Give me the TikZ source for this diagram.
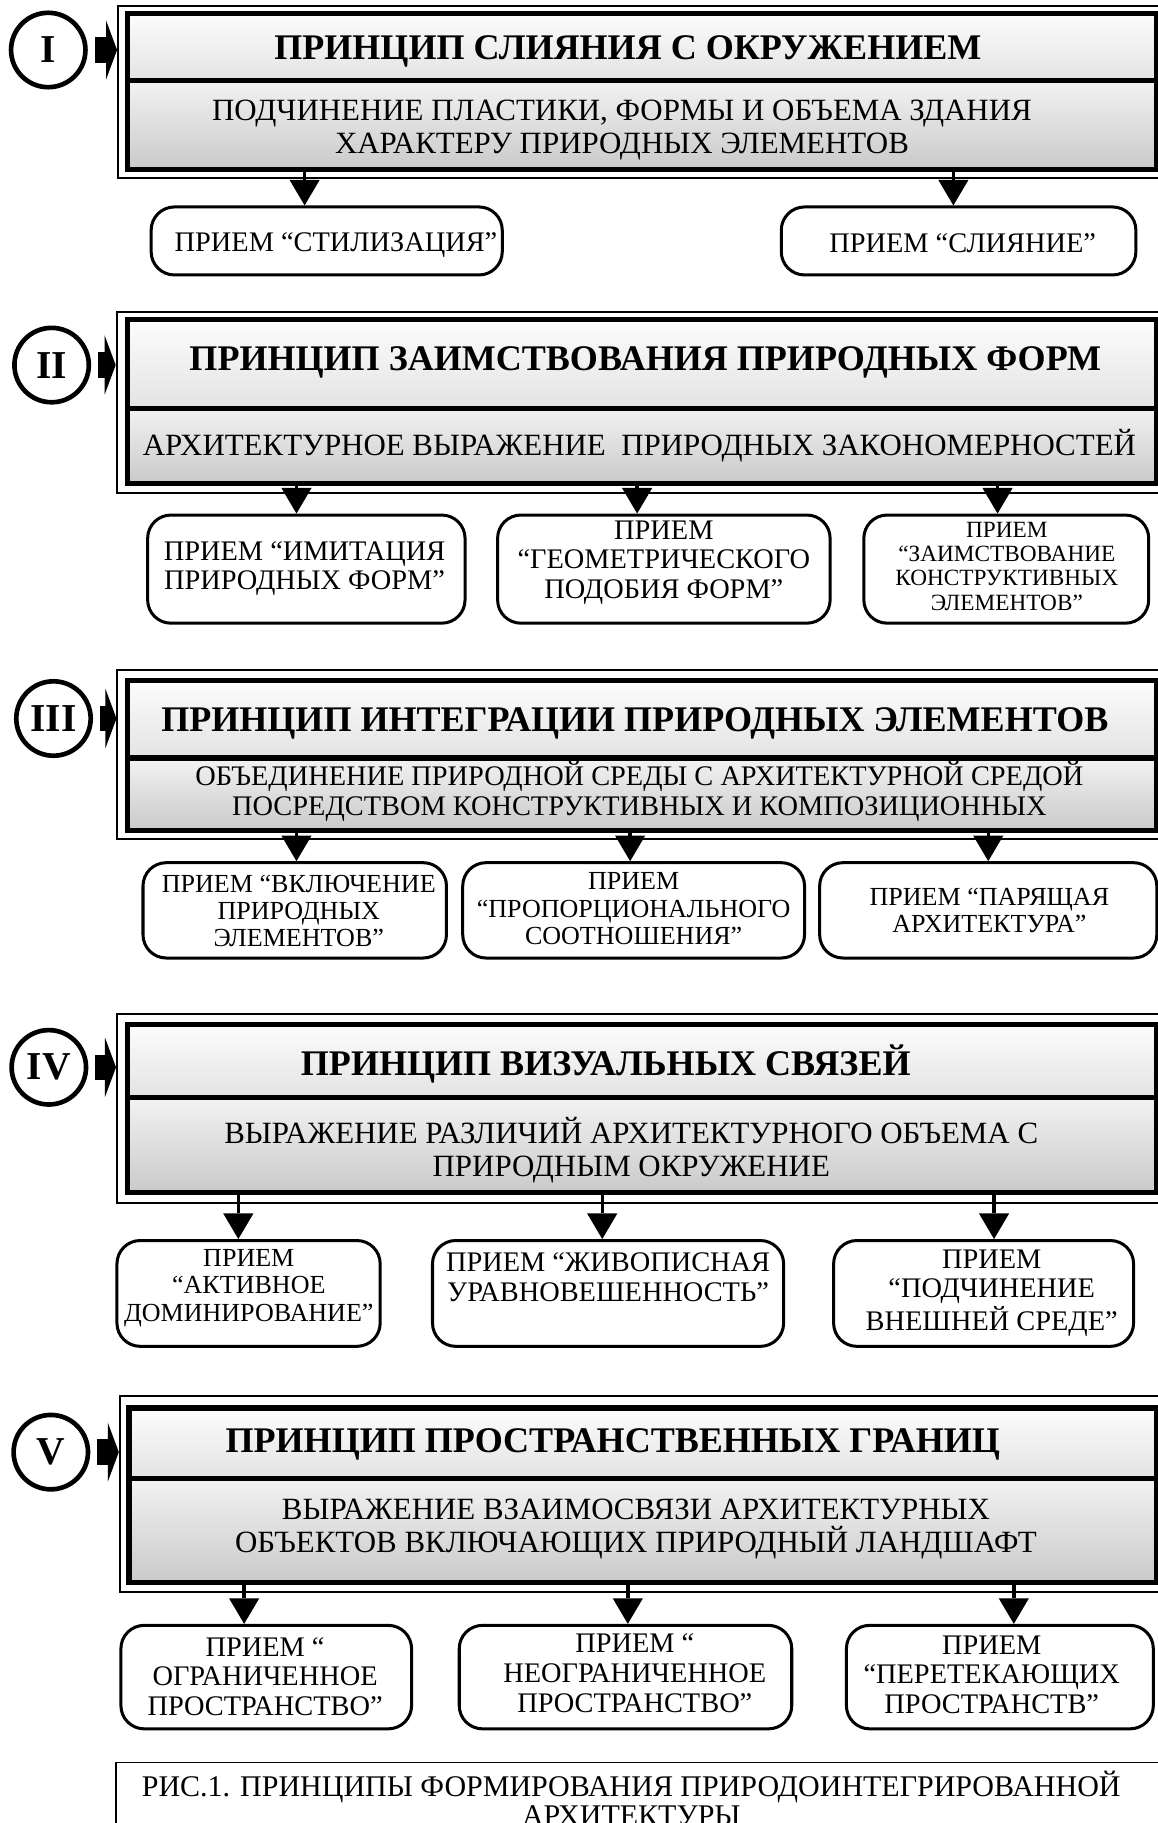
\documentclass[tikz,border=0pt]{standalone}
\usepackage{fontspec}
\setmainfont{Liberation Serif}
\usetikzlibrary{arrows.meta,fit}
\begin{document}
\begin{tikzpicture}[x=0.5pt,y=-0.5pt,
  frame/.style={draw, line width=0.8pt, inner sep=0pt, fill=white},
  tband/.style={draw, line width=2.2pt, inner sep=0pt, top color=gray!2, bottom color=gray!22},
  sband/.style={draw, line width=2.2pt, inner sep=0pt, top color=gray!10, bottom color=gray!42},
  rbox/.style={draw, line width=1.3pt, rounded corners=10pt, inner sep=0pt, fill=white},
  circ/.style={circle, draw, line width=2pt, minimum size=32pt, inner sep=0pt, font=\fontsize{17}{17}\selectfont\bfseries},
  ttl/.style={font=\fontsize{15.5}{17}\selectfont\bfseries, inner sep=0pt},
  sub/.style={font=\fontsize{13.3}{14.2}\selectfont, align=center, inner sep=0pt},
  btx/.style={font=\fontsize{12.2}{12.8}\selectfont, align=center, inner sep=0pt},
  btxs/.style={font=\fontsize{10}{10.5}\selectfont, align=center, inner sep=0pt},
  btxm/.style={font=\fontsize{11.2}{11.8}\selectfont, align=center, inner sep=0pt},
  dar/.style={line width=1.5pt, -{Triangle[length=11pt,width=13pt,line width=0pt]}},
  stem/.style={line width=11pt, shorten <=3pt, shorten >=4.6pt},
  head/.style={fill=black}
]
\useasboundingbox (0,0) rectangle (996,1568);
\clip (0,0) rectangle (996,1568);

% side arrow head at point #1
\newcommand{\sidehead}[1]{\fill[head] ([shift={(-9.5,-25.5)}]#1) -- (#1) -- ([shift={(-9.5,25.5)}]#1) -- cycle;}

% ---------------- Section I
\node[frame, fit={(101.5,5.5) (1003,153)}] (f1) {};
\node[tband, fit={(110,11.5) (995,69)}] (t1) {};
\node[sband, fit={(110,69) (995,146)}] (s1) {};
\node[circ] (c1) at (41.5,43) {I};
\coordinate (p1) at (f1.west |- c1.east);
\draw[stem] (c1.east) -- (p1);
\sidehead{p1}
\node[ttl] (tt1) at (540,44) {ПРИНЦИП СЛИЯНИЯ С ОКРУЖЕНИЕМ};
\node[sub] (st1) at (535,111.75) {ПОДЧИНЕНИЕ ПЛАСТИКИ, ФОРМЫ И ОБЪЕМА ЗДАНИЯ\\ХАРАКТЕРУ ПРИРОДНЫХ ЭЛЕМЕНТОВ};
\node[rbox, fit={(130,178) (432,236.5)}] (b11) {};
\node[rbox, fit={(672,178) (977,236.5)}] (b12) {};
\node[btx] (x11) at (289,211) {ПРИЕМ “СТИЛИЗАЦИЯ”};
\node[btx] (x12) at (828,209) {ПРИЕМ “СЛИЯНИЕ”};
\coordinate (a11) at (262,0);
\coordinate (a12) at (820,0);
\draw[dar] (s1.south -| a11) -- (b11.north -| a11);
\draw[dar] (s1.south -| a12) -- (b12.north -| a12);

% ---------------- Section II
\node[frame, fit={(100.3,268) (1003,424)}] (f2) {};
\node[tband, fit={(110,275) (995,351)}] (t2) {};
\node[sband, fit={(110,351) (995,415.6)}] (s2) {};
\node[circ] (c2) at (44.4,314) {II};
\coordinate (p2) at (f2.west |- c2.east);
\draw[stem] (c2.east) -- (p2);
\sidehead{p2}
\node[ttl] (tt2) at (555,312) {ПРИНЦИП ЗАИМСТВОВАНИЯ ПРИРОДНЫХ ФОРМ};
\node[sub] (st2) at (550,383) {АРХИТЕКТУРНОЕ ВЫРАЖЕНИЕ\ \ ПРИРОДНЫХ ЗАКОНОМЕРНОСТЕЙ};
\node[rbox, fit={(127,443) (400,536)}] (b21) {};
\node[rbox, fit={(428,443) (714,536)}] (b22) {};
\node[rbox, fit={(743,443) (988,536)}] (b23) {};
\node[btx] (x21) at (262,489) {ПРИЕМ “ИМИТАЦИЯ\\ПРИРОДНЫХ ФОРМ”};
\node[btx] (x22) at (571,484) {ПРИЕМ\\“ГЕОМЕТРИЧЕСКОГО\\ПОДОБИЯ ФОРМ”};
\node[btxs] (x23) at (866,487) {ПРИЕМ\\“ЗАИМСТВОВАНИЕ\\КОНСТРУКТИВНЫХ\\ЭЛЕМЕНТОВ”};
\coordinate (a21) at (255,0);
\coordinate (a22) at (548,0);
\coordinate (a23) at (858,0);
\draw[dar] (s2.south -| a21) -- (b21.north -| a21);
\draw[dar] (s2.south -| a22) -- (b22.north -| a22);
\draw[dar] (s2.south -| a23) -- (b23.north -| a23);

% ---------------- Section III
\node[frame, fit={(101,576) (1003,722)}] (f3) {};
\node[tband, fit={(110,585) (995,652)}] (t3) {};
\node[sband, fit={(110,652) (995,714)}] (s3) {};
\node[circ] (c3) at (46,618) {III};
\coordinate (p3) at (f3.west |- c3.east);
\draw[stem] (c3.east) -- (p3);
\sidehead{p3}
\node[ttl] (tt3) at (546,622) {ПРИНЦИП ИНТЕГРАЦИИ ПРИРОДНЫХ ЭЛЕМЕНТОВ};
\node[sub, font=\fontsize{12.2}{13}\selectfont] (st3) at (550,681) {ОБЪЕДИНЕНИЕ ПРИРОДНОЙ СРЕДЫ С АРХИТЕКТУРНОЙ СРЕДОЙ\\ПОСРЕДСТВОМ КОНСТРУКТИВНЫХ И КОМПОЗИЦИОННЫХ};
\node[rbox, fit={(123,742) (384,824)}] (b31) {};
\node[rbox, fit={(398,742) (692,824)}] (b32) {};
\node[rbox, fit={(705,742) (995,824)}] (b33) {};
\node[btxm] (x31) at (257,783.5) {ПРИЕМ “ВКЛЮЧЕНИЕ\\ПРИРОДНЫХ\\ЭЛЕМЕНТОВ”};
\node[btxm] (x32) at (545,781.5) {ПРИЕМ\\“ПРОПОРЦИОНАЛЬНОГО\\СООТНОШЕНИЯ”};
\node[btxm] (x33) at (851,783) {ПРИЕМ “ПАРЯЩАЯ\\АРХИТЕКТУРА”};
\coordinate (a31) at (255,0);
\coordinate (a32) at (542,0);
\coordinate (a33) at (850,0);
\draw[dar] (s3.south -| a31) -- (b31.north -| a31);
\draw[dar] (s3.south -| a32) -- (b32.north -| a32);
\draw[dar] (s3.south -| a33) -- (b33.north -| a33);

% ---------------- Section IV
\node[frame, fit={(100.6,872) (1003,1034.6)}] (f4) {};
\node[tband, fit={(110,881.5) (995,944)}] (t4) {};
\node[sband, fit={(110,944) (995,1026)}] (s4) {};
\node[circ] (c4) at (42,918) {IV};
\coordinate (p4) at (f4.west |- c4.east);
\draw[stem] (c4.east) -- (p4);
\sidehead{p4}
\node[ttl] (tt4) at (521,915) {ПРИНЦИП ВИЗУАЛЬНЫХ СВЯЗЕЙ};
\node[sub] (st4) at (543,989) {ВЫРАЖЕНИЕ РАЗЛИЧИЙ АРХИТЕКТУРНОГО ОБЪЕМА С\\ПРИРОДНЫМ ОКРУЖЕНИЕ};
\node[rbox, fit={(100.6,1067) (327,1158)}] (b41) {};
\node[rbox, fit={(372,1067) (674,1158)}] (b42) {};
\node[rbox, fit={(717,1067) (975,1158)}] (b43) {};
\node[btxm] (x41) at (214,1108) {ПРИЕМ\\“АКТИВНОЕ\\ДОМИНИРОВАНИЕ”};
\node[btx] (x42) at (523,1098.5) {ПРИЕМ “ЖИВОПИСНАЯ\\УРАВНОВЕШЕННОСТЬ”};
\node[btx] (x43) at (853,1112) {ПРИЕМ\\“ПОДЧИНЕНИЕ\\ВНЕШНЕЙ СРЕДЕ”};
\coordinate (a41) at (205,0);
\coordinate (a42) at (518,0);
\coordinate (a43) at (855,0);
\draw[dar] (s4.south -| a41) -- (b41.north -| a41);
\draw[dar] (s4.south -| a42) -- (b42.north -| a42);
\draw[dar] (s4.south -| a43) -- (b43.north -| a43);

% ---------------- Section V
\node[frame, fit={(103,1201) (1003,1369)}] (f5) {};
\node[tband, fit={(111,1211) (995,1272)}] (t5) {};
\node[sband, fit={(111,1272) (995,1361)}] (s5) {};
\node[circ] (c5) at (43.7,1249) {V};
\coordinate (p5) at (f5.west |- c5.east);
\draw[stem] (c5.east) -- (p5);
\sidehead{p5}
\node[ttl] (tt5) at (527,1242) {ПРИНЦИП ПРОСТРАНСТВЕННЫХ ГРАНИЦ};
\node[sub] (st5) at (547,1315.5) {ВЫРАЖЕНИЕ ВЗАИМОСВЯЗИ АРХИТЕКТУРНЫХ\\ОБЪЕКТОВ ВКЛЮЧАЮЩИХ ПРИРОДНЫЙ ЛАНДШАФТ};
\node[rbox, fit={(104,1398) (354,1487)}] (b51) {};
\node[rbox, fit={(395,1398) (681,1487)}] (b52) {};
\node[rbox, fit={(728,1398) (992,1487)}] (b53) {};
\node[btx] (x51) at (228,1442) {ПРИЕМ “\\ОГРАНИЧЕННОЕ\\ПРОСТРАНСТВО”};
\node[btx] (x52) at (546,1439) {ПРИЕМ “\\НЕОГРАНИЧЕННОЕ\\ПРОСТРАНСТВО”};
\node[btx] (x53) at (853,1440.5) {ПРИЕМ\\“ПЕРЕТЕКАЮЩИХ\\ПРОСТРАНСТВ"};
\coordinate (a51) at (210,0);
\coordinate (a52) at (540,0);
\coordinate (a53) at (872,0);
\draw[dar] (s5.south -| a51) -- (b51.north -| a51);
\draw[dar] (s5.south -| a52) -- (b52.north -| a52);
\draw[dar] (s5.south -| a53) -- (b53.north -| a53);

% ---------------- Caption
\node[frame, fit={(100,1516) (1010,1610)}] (cap) {};
\node[sub, font=\fontsize{12.9}{12.5}\selectfont] (capt) at (543,1547) {РИС.1. ПРИНЦИПЫ ФОРМИРОВАНИЯ ПРИРОДОИНТЕГРИРОВАННОЙ\\АРХИТЕКТУРЫ};
\end{tikzpicture}
\end{document}
